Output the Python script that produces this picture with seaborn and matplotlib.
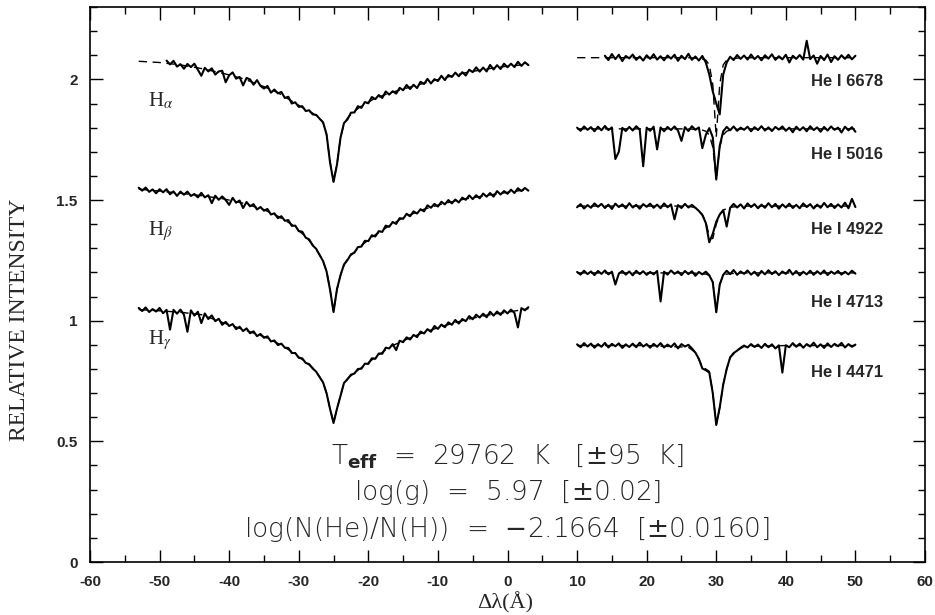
import numpy as np
import pandas as pd
import matplotlib
matplotlib.use("Agg")
import matplotlib.pyplot as plt
import seaborn as sns
from matplotlib.ticker import MultipleLocator

# ---------------- data ----------------
grid_step = 0.5   # wavelength sampling of the observed spectra (Angstrom)

# Balmer lines (observed), start offsets
ha_start = -49.0
ha_obs = [2.078, 2.062, 2.077, 2.053, 2.063, 2.044, 2.064, 2.051, 2.065, 2.040,
          2.015, 2.048, 2.033, 2.046, 2.020, 2.033, 2.036, 1.988, 2.017, 2.029,
          2.003, 2.010, 1.975, 2.006, 2.000, 1.978, 1.997, 1.973, 1.962, 1.973,
          1.945, 1.958, 1.942, 1.948, 1.923, 1.928, 1.900, 1.905, 1.886, 1.889,
          1.869, 1.872, 1.855, 1.853, 1.837, 1.822, 1.772, 1.655, 1.575, 1.648,
          1.758, 1.819, 1.834, 1.862, 1.863, 1.889, 1.882, 1.906, 1.901, 1.927,
          1.918, 1.935, 1.923, 1.950, 1.937, 1.951, 1.941, 1.965, 1.955, 1.977,
          1.960, 1.978, 1.964, 1.990, 1.981, 2.002, 1.983, 2.001, 1.993, 2.015,
          1.997, 2.018, 2.010, 2.028, 2.013, 2.030, 2.016, 2.040, 2.030, 2.050,
          2.032, 2.049, 2.033, 2.060, 2.041, 2.059, 2.043, 2.065, 2.050, 2.065,
          2.051, 2.073, 2.056, 2.071, 2.059]

hb_start = -53.0
hb_obs = [1.551, 1.539, 1.552, 1.534, 1.544, 1.528, 1.545, 1.532, 1.545, 1.524,
          1.536, 1.517, 1.535, 1.522, 1.535, 1.517, 1.525, 1.511, 1.530, 1.511,
          1.520, 1.487, 1.518, 1.501, 1.515, 1.500, 1.480, 1.509, 1.489, 1.498,
          1.467, 1.492, 1.474, 1.483, 1.461, 1.471, 1.456, 1.463, 1.440, 1.445,
          1.425, 1.433, 1.414, 1.417, 1.393, 1.394, 1.371, 1.369, 1.344, 1.337,
          1.312, 1.298, 1.272, 1.247, 1.204, 1.128, 1.036, 1.132, 1.188, 1.233,
          1.251, 1.275, 1.282, 1.305, 1.307, 1.331, 1.330, 1.354, 1.349, 1.371,
          1.368, 1.394, 1.389, 1.409, 1.401, 1.425, 1.422, 1.443, 1.433, 1.453,
          1.444, 1.462, 1.453, 1.478, 1.468, 1.484, 1.473, 1.493, 1.482, 1.500,
          1.486, 1.502, 1.490, 1.510, 1.501, 1.519, 1.504, 1.520, 1.507, 1.527,
          1.514, 1.529, 1.514, 1.537, 1.523, 1.537, 1.526, 1.543, 1.529, 1.549,
          1.537, 1.550, 1.539]

hg_start = -53.0
hg_obs = [1.053, 1.040, 1.055, 1.036, 1.048, 1.038, 1.053, 1.031, 1.045, 0.963,
          1.045, 1.029, 1.046, 1.025, 0.954, 1.043, 1.021, 1.037, 0.990, 1.030,
          1.007, 1.022, 0.998, 1.008, 0.983, 0.995, 0.978, 0.986, 0.965, 0.975,
          0.957, 0.968, 0.948, 0.956, 0.936, 0.945, 0.929, 0.935, 0.914, 0.918,
          0.899, 0.905, 0.888, 0.887, 0.866, 0.866, 0.846, 0.844, 0.825, 0.820,
          0.802, 0.789, 0.766, 0.744, 0.699, 0.634, 0.576, 0.636, 0.688, 0.742,
          0.757, 0.776, 0.781, 0.800, 0.801, 0.822, 0.821, 0.844, 0.842, 0.864,
          0.863, 0.888, 0.885, 0.903, 0.878, 0.917, 0.911, 0.931, 0.922, 0.941,
          0.932, 0.955, 0.947, 0.965, 0.954, 0.978, 0.966, 0.984, 0.973, 0.993,
          0.983, 1.003, 0.988, 1.007, 0.998, 1.019, 1.006, 1.025, 1.013, 1.029,
          1.014, 1.037, 1.021, 1.038, 1.024, 1.043, 1.030, 1.046, 1.032, 0.972,
          1.052, 1.043, 1.056]

# He I lines (observed)
he6678_start = 14.0
he6678_obs = [2.098, 2.080, 2.105, 2.084, 2.102, 2.076, 2.097, 2.087, 2.103, 2.081,
              2.095, 2.078, 2.100, 2.085, 2.104, 2.082, 2.096, 2.079, 2.099, 2.086,
              2.102, 2.077, 2.098, 2.084, 2.106, 2.081, 2.095, 2.078, 2.097, 2.070,
              2.020, 1.950, 1.900, 1.855, 2.020, 2.070, 2.094, 2.080, 2.101, 2.085,
              2.099, 2.082, 2.103, 2.084, 2.097, 2.079, 2.100, 2.086, 2.104, 2.081,
              2.096, 2.083, 2.102, 2.070, 2.098, 2.085, 2.101, 2.082, 2.160, 2.084,
              2.099, 2.065, 2.097, 2.080, 2.103, 2.072, 2.096, 2.081, 2.100, 2.085,
              2.102, 2.083, 2.098]

he5016_start = 10.0
he5016_obs = [1.800, 1.787, 1.805, 1.791, 1.802, 1.785, 1.804, 1.789, 1.807, 1.790,
              1.801, 1.670, 1.700, 1.799, 1.786, 1.803, 1.788, 1.806, 1.792, 1.640,
              1.800, 1.787, 1.804, 1.710, 1.801, 1.785, 1.803, 1.790, 1.805, 1.788,
              1.745, 1.802, 1.786, 1.806, 1.791, 1.801, 1.715, 1.770, 1.798, 1.760,
              1.585, 1.725, 1.785, 1.803, 1.789, 1.805, 1.787, 1.800, 1.791, 1.804,
              1.785, 1.802, 1.790, 1.806, 1.788, 1.801, 1.786, 1.803, 1.792, 1.805,
              1.787, 1.800, 1.781, 1.804, 1.789, 1.802, 1.785, 1.806, 1.790, 1.801,
              1.783, 1.803, 1.788, 1.805, 1.791, 1.800, 1.780, 1.804, 1.789, 1.802,
              1.783]

he4922_start = 10.0
he4922_obs = [1.470, 1.483, 1.465, 1.479, 1.468, 1.486, 1.472, 1.484, 1.467, 1.481,
              1.463, 1.485, 1.471, 1.482, 1.466, 1.487, 1.469, 1.480, 1.464, 1.483,
              1.472, 1.485, 1.468, 1.481, 1.466, 1.486, 1.470, 1.482, 1.420, 1.479,
              1.467, 1.484, 1.469, 1.480, 1.468, 1.455, 1.438, 1.405, 1.325, 1.360,
              1.410, 1.440, 1.458, 1.390, 1.468, 1.484, 1.469, 1.482, 1.465, 1.486,
              1.471, 1.483, 1.466, 1.481, 1.468, 1.487, 1.470, 1.484, 1.464, 1.482,
              1.469, 1.485, 1.467, 1.480, 1.466, 1.486, 1.471, 1.483, 1.465, 1.481,
              1.468, 1.488, 1.470, 1.484, 1.467, 1.482, 1.469, 1.489, 1.466, 1.505,
              1.471]

he4713_start = 10.0
he4713_obs = [1.202, 1.191, 1.207, 1.193, 1.204, 1.189, 1.206, 1.194, 1.208, 1.192,
              1.203, 1.150, 1.195, 1.206, 1.191, 1.204, 1.188, 1.207, 1.193, 1.205,
              1.190, 1.202, 1.192, 1.206, 1.080, 1.203, 1.191, 1.208, 1.194, 1.204,
              1.189, 1.206, 1.193, 1.205, 1.186, 1.202, 1.192, 1.203, 1.188, 1.160,
              1.035, 1.150, 1.190, 1.207, 1.193, 1.210, 1.190, 1.204, 1.194, 1.208,
              1.191, 1.203, 1.186, 1.206, 1.192, 1.209, 1.193, 1.205, 1.189, 1.204,
              1.194, 1.211, 1.191, 1.206, 1.188, 1.203, 1.192, 1.207, 1.190, 1.205,
              1.193, 1.208, 1.189, 1.204, 1.194, 1.206, 1.191, 1.203, 1.192, 1.207,
              1.195]

he4471_start = 10.0
he4471_obs = [0.902, 0.890, 0.907, 0.893, 0.905, 0.888, 0.903, 0.892, 0.908, 0.889,
              0.904, 0.894, 0.906, 0.887, 0.902, 0.891, 0.905, 0.890, 0.909, 0.893,
              0.903, 0.888, 0.904, 0.892, 0.907, 0.889, 0.901, 0.891, 0.906, 0.885,
              0.903, 0.893, 0.900, 0.885, 0.868, 0.842, 0.802, 0.795, 0.785, 0.700,
              0.568, 0.640, 0.735, 0.800, 0.848, 0.866, 0.876, 0.888, 0.897, 0.889,
              0.903, 0.891, 0.901, 0.887, 0.904, 0.890, 0.902, 0.885, 0.898, 0.785,
              0.898, 0.890, 0.907, 0.892, 0.905, 0.888, 0.903, 0.893, 0.909, 0.890,
              0.902, 0.887, 0.906, 0.891, 0.904, 0.894, 0.908, 0.889, 0.903, 0.892,
              0.901]

# Model fits (dashed)
h_model_dlam = [-53, -50, -47, -44, -41, -38, -35, -33, -31, -29, -28, -27, -26.5, -26,
                -25.5, -25, -24.5, -24, -23.5, -23, -22, -21, -19, -17, -15, -12, -9,
                -6, -3, 0, 3]
ha_model = [2.075, 2.070, 2.060, 2.045, 2.026, 2.003, 1.970, 1.945, 1.910, 1.875, 1.860,
            1.840, 1.820, 1.770, 1.660, 1.578, 1.650, 1.760, 1.815, 1.840, 1.868, 1.890,
            1.922, 1.943, 1.960, 1.984, 2.007, 2.028, 2.043, 2.055, 2.062]
hb_model = [1.545, 1.537, 1.528, 1.518, 1.506, 1.487, 1.460, 1.433, 1.399, 1.348, 1.315,
            1.274, 1.245, 1.205, 1.130, 1.037, 1.130, 1.190, 1.230, 1.255, 1.285, 1.312,
            1.356, 1.393, 1.427, 1.462, 1.487, 1.505, 1.519, 1.532, 1.544]
hg_model = [1.046, 1.041, 1.035, 1.025, 0.993, 0.964, 0.934, 0.906, 0.872, 0.828, 0.805,
            0.768, 0.743, 0.700, 0.635, 0.577, 0.635, 0.690, 0.740, 0.760, 0.784, 0.805,
            0.848, 0.890, 0.917, 0.952, 0.980, 1.004, 1.023, 1.035, 1.050]

he_model_dlam = [10, 20, 26, 27, 28, 28.5, 29, 29.5, 30, 30.5, 31, 31.5, 32, 33, 34, 40, 50]
he6678_model = [2.09, 2.09, 2.09, 2.088, 2.085, 2.08, 2.06, 1.98, 1.76, 1.98, 2.06, 2.08,
                2.085, 2.088, 2.09, 2.09, 2.09]
he5016_model = [1.795, 1.795, 1.795, 1.793, 1.79, 1.785, 1.77, 1.72, 1.59, 1.72, 1.77,
                1.785, 1.79, 1.793, 1.795, 1.795, 1.795]
he4922_model = [1.475, 1.475, 1.475, 1.468, 1.44, 1.41, 1.35, 1.34, 1.40, 1.44, 1.458,
                1.465, 1.47, 1.473, 1.475, 1.475, 1.475]
he4713_model = [1.198, 1.198, 1.198, 1.197, 1.195, 1.193, 1.188, 1.16, 1.04, 1.15, 1.188,
                1.193, 1.195, 1.197, 1.198, 1.198, 1.198]
he4471_model = [0.897, 0.897, 0.89, 0.868, 0.81, 0.80, 0.79, 0.70, 0.57, 0.64, 0.735,
                0.80, 0.848, 0.876, 0.893, 0.897, 0.897]

balmer_labels = [r"H$_\alpha$", r"H$_\beta$", r"H$_\gamma$"]
balmer_label_pos = [(-51.6, 1.91), (-51.6, 1.37), (-51.6, 0.92)]
he_labels = ["He I 6678", "He I 5016", "He I 4922", "He I 4713", "He I 4471"]
he_label_y = [1.99, 1.69, 1.378, 1.075, 0.784]

xtick_values = [-60, -50, -40, -30, -20, -10, 0, 10, 20, 30, 40, 50, 60]
xtick_labels = ["-60", "-50", "-40", "-30", "-20", "-10", "0", "10", "20", "30", "40", "50", "60"]
ytick_values = [0, 0.5, 1, 1.5, 2]
ytick_labels = ["0", "0.5", "1", "1.5", "2"]

fit_lines = [r"T$_{\mathbf{eff}}$  =  29762  K   [$\pm$95  K]",
             r"log(g)  =  5.97  [$\pm$0.02]",
             r"log(N(He)/N(H))  =  $-$2.1664  [$\pm$0.0160]"]
fit_line_y = [0.436, 0.286, 0.133]

# ---------------- figure ----------------
sns.set_style("ticks")
plt.rcParams["font.family"] = ["DejaVu Sans"]
plt.rcParams["axes.unicode_minus"] = False

fig = plt.figure(figsize=(9.35, 6.15), dpi=100)
ax = fig.add_axes([90 / 935, 1 - 562 / 615, 835 / 935, 555 / 615])

observed = [(ha_start, ha_obs), (hb_start, hb_obs), (hg_start, hg_obs),
            (he6678_start, he6678_obs), (he5016_start, he5016_obs),
            (he4922_start, he4922_obs), (he4713_start, he4713_obs),
            (he4471_start, he4471_obs)]
models = [(h_model_dlam, ha_model), (h_model_dlam, hb_model), (h_model_dlam, hg_model),
          (he_model_dlam, he6678_model), (he_model_dlam, he5016_model),
          (he_model_dlam, he4922_model), (he_model_dlam, he4713_model),
          (he_model_dlam, he4471_model)]

for mx, my in models:
    dfm = pd.DataFrame({"dlam": mx, "flux": my})
    sns.lineplot(data=dfm, x="dlam", y="flux", ax=ax, color="black", lw=1.0,
                 linestyle=(0, (6, 4)), estimator=None, sort=False)

for start, vals in observed:
    x = start + grid_step * np.arange(len(vals))
    dfo = pd.DataFrame({"dlam": x, "flux": vals})
    sns.lineplot(data=dfo, x="dlam", y="flux", ax=ax, color="black", lw=1.5,
                 estimator=None, sort=False)

ax.set_xlim(-60, 60)
ax.set_ylim(0, 2.3)
ax.set_xlabel("")
ax.set_ylabel("")
ax.set_xticks(xtick_values)
ax.set_xticklabels(xtick_labels)
ax.set_yticks(ytick_values)
ax.set_yticklabels(ytick_labels)
ax.xaxis.set_minor_locator(MultipleLocator(5))
ax.yaxis.set_minor_locator(MultipleLocator(0.1))
ax.tick_params(which="both", direction="in", top=True, right=True, width=1.0,
               color="black")
ax.tick_params(which="major", length=9)
ax.tick_params(which="minor", length=5)
ax.tick_params(axis="y", which="major", pad=9)
ax.tick_params(axis="x", which="major", pad=9)
for lab in ax.get_xticklabels() + ax.get_yticklabels():
    lab.set_fontfamily("Liberation Sans")
    lab.set_fontweight("bold")
    lab.set_fontsize(11)
for sp in ax.spines.values():
    sp.set_linewidth(1.2)
    sp.set_color("black")

for txt, (lx, ly) in zip(balmer_labels, balmer_label_pos):
    ax.text(lx, ly, txt, fontsize=15, family="Liberation Serif", math_fontfamily="stix",
            ha="left", va="center")

for txt, ly in zip(he_labels, he_label_y):
    ax.text(54.0, ly, txt, fontsize=12, family="Liberation Sans", fontweight="bold",
            ha="right", va="center")

for txt, ly in zip(fit_lines, fit_line_y):
    ax.text(0.0, ly, txt, fontsize=19, family="DejaVu Sans", fontweight="light",
            ha="center", va="center")

fig.text(20 / 935, 1 - 320 / 615, "RELATIVE INTENSITY", rotation=90, fontsize=17,
         family="Liberation Serif", ha="center", va="center")
fig.text(505 / 935, 1 - 603 / 615, "Δλ(Å)", fontsize=16, family="Liberation Serif",
         ha="center", va="center")

fig.savefig("out.png", dpi=100)
